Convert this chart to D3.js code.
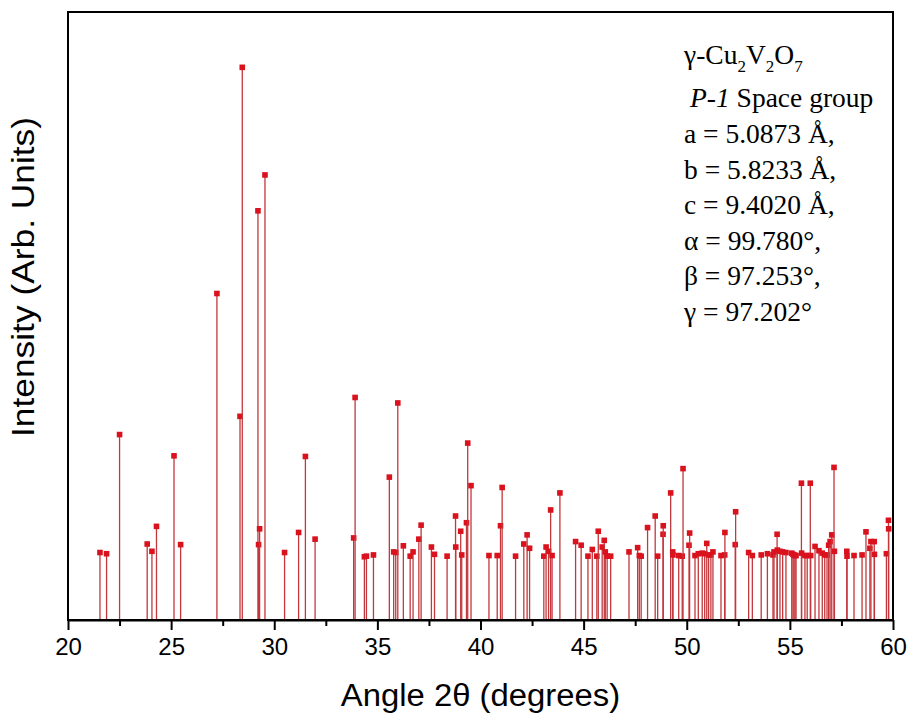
<!DOCTYPE html>
<html>
<head>
<meta charset="utf-8">
<style>
  body { margin: 0; background: #fff; }
  svg { display: block; }
  .peak line { stroke: #c2383d; stroke-width: 1.3; }
  .peak rect { fill: #d9121e; }
</style>
</head>
<body>
<div id="chart"></div>
<script src="https://cdnjs.cloudflare.com/ajax/libs/d3/7.8.5/d3.min.js"></script>
<script>
// peak positions (2theta, degrees)
var angles = [
  21.55, 21.87, 22.50, 23.84, 24.07, 24.29, 25.14, 25.46, 27.22, 28.34,
  28.45, 29.21, 29.24, 29.29, 29.55, 30.50, 31.18, 31.51, 31.98, 33.85,
  33.92, 34.37, 34.47, 34.81, 35.58, 35.79, 35.89, 35.99, 36.26, 36.59,
  36.73, 37.01, 37.12, 37.62, 37.77, 38.38, 38.79, 38.80, 39.04, 39.09,
  39.32, 39.38, 39.54, 40.41, 40.81, 40.97, 41.05, 41.70, 42.10, 42.26,
  42.38, 43.07, 43.18, 43.30, 43.40, 43.47, 43.85, 44.61, 44.88, 45.21,
  45.42, 45.64, 45.71, 45.90, 46.00, 46.05, 46.14, 46.31, 47.20, 47.62,
  47.70, 47.79, 48.10, 48.47, 48.59, 48.85, 48.86, 49.22, 49.32, 49.33,
  49.61, 49.78, 49.82, 50.11, 50.14, 50.40, 50.56, 50.75, 50.87, 50.97,
  51.06, 51.17, 51.27, 51.66, 51.84, 51.85, 52.35, 52.37, 53.00, 53.18,
  53.61, 53.91, 54.18, 54.23, 54.38, 54.39, 54.52, 54.65, 54.81, 55.09,
  55.15, 55.20, 55.25, 55.30, 55.56, 55.57, 55.73, 55.84, 55.99, 56.01,
  56.22, 56.41, 56.57, 56.69, 56.80, 56.88, 56.95, 57.03, 57.14, 57.16,
  57.76, 57.77, 58.11, 58.50, 58.69, 58.88, 58.93, 59.09, 59.10, 59.68,
  59.78, 59.79
];
// relative intensities (arb. units, 0-100 = full frame height)
var intensities = [
  11.1, 10.9, 30.5, 12.5, 11.3, 15.4, 27.0, 12.4, 53.7, 33.5,
  90.9, 67.3, 12.4, 15.0, 73.2, 11.1, 14.4, 26.9, 13.3, 13.5,
  36.6, 10.4, 10.5, 10.7, 23.5, 11.2, 11.1, 35.7, 12.2, 10.5,
  11.2, 13.3, 15.6, 12.0, 10.8, 10.5, 17.1, 12.0, 14.6, 10.7,
  16.0, 29.1, 22.1, 10.6, 10.6, 15.5, 21.8, 10.5, 12.5, 14.0,
  11.8, 10.5, 12.0, 11.3, 18.1, 10.6, 20.9, 12.9, 12.3, 10.5,
  11.6, 10.5, 14.6, 12.0, 13.1, 11.2, 10.5, 10.5, 11.2, 11.9,
  10.6, 10.5, 15.2, 17.1, 10.5, 14.1, 15.5, 20.9, 11.2, 10.7,
  10.6, 10.5, 24.9, 12.3, 14.3, 10.6, 10.9, 11.0, 10.9, 12.6,
  10.7, 10.7, 11.2, 10.6, 10.7, 14.4, 12.4, 17.8, 11.1, 10.6,
  10.7, 10.9, 10.7, 11.2, 14.1, 11.5, 11.3, 11.2, 11.1, 11.0,
  10.8, 10.7, 10.6, 10.6, 22.5, 11.0, 10.6, 10.6, 22.5, 10.6,
  12.1, 11.4, 11.0, 10.7, 10.7, 12.3, 12.9, 14.0, 25.1, 11.3,
  11.3, 10.5, 10.6, 10.7, 14.5, 11.8, 12.9, 12.9, 10.8, 10.9,
  16.4, 15.0
];
var xTicks = [20, 25, 30, 35, 40, 45, 50, 55, 60];
var xMinorTicks = [22.5, 27.5, 32.5, 37.5, 42.5, 47.5, 52.5, 57.5];

var W = 908, H = 716;
var margin = { left: 68, right: 15, top: 12, bottom: 96 };

var svg = d3.select("#chart").append("svg")
  .attr("width", W)
  .attr("height", H);

var x = d3.scaleLinear().domain([20, 60]).range([margin.left, W - margin.right]);
var y = d3.scaleLinear().domain([0, 100]).range([H - margin.bottom, margin.top]);

var peaks = angles.map(function (a, i) { return { angle: a, value: intensities[i] }; });

// stems + square markers
var g = svg.selectAll("g.peak").data(peaks).enter().append("g").attr("class", "peak");
g.append("line")
  .attr("x1", function (d) { return x(d.angle); })
  .attr("x2", function (d) { return x(d.angle); })
  .attr("y1", y(0))
  .attr("y2", function (d) { return y(d.value); });
g.append("rect")
  .attr("x", function (d) { return x(d.angle) - 2.8; })
  .attr("y", function (d) { return y(d.value) - 2.8; })
  .attr("width", 5.6)
  .attr("height", 5.6);

// frame
svg.append("rect")
  .attr("x", x(20)).attr("y", y(100))
  .attr("width", x(60) - x(20)).attr("height", y(0) - y(100))
  .attr("fill", "none").attr("stroke", "#000").attr("stroke-width", 2);

// x axis
var xAxis = d3.axisBottom(x).tickValues(xTicks).tickSize(10).tickSizeOuter(0).tickPadding(8);
var ax = svg.append("g").attr("transform", "translate(0," + y(0) + ")").call(xAxis);
ax.select(".domain").attr("stroke-width", 2);
ax.selectAll(".tick line").attr("stroke-width", 2);
ax.selectAll("text")
  .style("font-family", "'Liberation Sans', Arial, sans-serif")
  .style("font-size", "24px")
  .attr("fill", "#000");
svg.append("g").attr("transform", "translate(0," + y(0) + ")")
  .call(d3.axisBottom(x).tickValues(xMinorTicks).tickSize(6).tickFormat(""))
  .call(function (s) { s.select(".domain").remove(); s.selectAll("line").attr("stroke-width", 2); });

// axis titles (the original lettering is a bit stretched)
svg.append("text")
  .attr("transform", "translate(" + (x(20) + x(60)) / 2 + ",706) scale(1.06,1)")
  .attr("text-anchor", "middle")
  .style("font-family", "'Liberation Sans', Arial, sans-serif")
  .style("font-size", "31px")
  .text("Angle 2\u03B8 (degrees)");

svg.append("text")
  .attr("transform", "translate(34,277) rotate(-90) scale(1.14,1)")
  .attr("text-anchor", "middle")
  .style("font-family", "'Liberation Sans', Arial, sans-serif")
  .style("font-size", "31px")
  .text("Intensity (Arb. Units)");

// lattice annotation
var note = svg.append("g")
  .style("font-family", "'Liberation Serif', 'Times New Roman', serif")
  .style("font-size", "27.5px")
  .attr("fill", "#000");

var t0 = note.append("text").attr("x", 684).attr("y", 64);
t0.append("tspan").text("\u03B3-Cu");
t0.append("tspan").attr("dy", 8).style("font-size", "17px").text("2");
t0.append("tspan").attr("dy", -8).text("V");
t0.append("tspan").attr("dy", 8).style("font-size", "17px").text("2");
t0.append("tspan").attr("dy", -8).text("O");
t0.append("tspan").attr("dy", 8).style("font-size", "17px").text("7");

var t1 = note.append("text").attr("x", 690).attr("y", 107);
t1.append("tspan").style("font-style", "italic").text("P-1");
t1.append("tspan").text(" Space group");

var params = ["a = 5.0873 \u00C5,", "b = 5.8233 \u00C5,", "c = 9.4020 \u00C5,",
  "\u03B1 = 99.780\u00B0,", "\u03B2 = 97.253\u00B0,", "\u03B3 = 97.202\u00B0"];
note.selectAll("text.par").data(params).enter().append("text")
  .attr("class", "par")
  .attr("x", 684)
  .attr("y", function (d, i) { return 143 + i * 35.5; })
  .text(function (d) { return d; });
</script>
</body>
</html>
